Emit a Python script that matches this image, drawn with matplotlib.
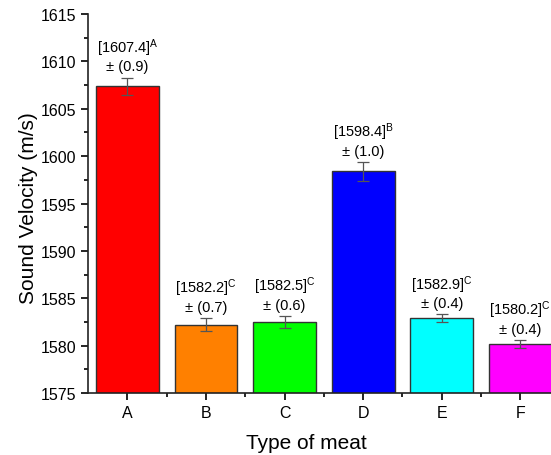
import numpy as np
import matplotlib
matplotlib.use('Agg')
from matplotlib import pyplot as plt
from matplotlib.ticker import MultipleLocator, FixedLocator

plt.rcParams['font.family'] = ['Liberation Sans', 'DejaVu Sans']
plt.rcParams['mathtext.fontset'] = 'custom'
plt.rcParams['mathtext.rm'] = 'Liberation Sans'
plt.rcParams['mathtext.it'] = 'Liberation Sans'

# data
meats = ['A', 'B', 'C', 'D', 'E', 'F']
velocity = [1607.4, 1582.2, 1582.5, 1598.4, 1582.9, 1580.2]
sd = [0.9, 0.7, 0.6, 1.0, 0.4, 0.4]
groups = ['A', 'C', 'C', 'B', 'C', 'C']
colors = ['#FF0000', '#FF8000', '#00FF00', '#0000FF', '#00FFFF', '#FF00FF']

fig = plt.figure(figsize=(5.51, 4.56), dpi=100)
ax = fig.add_axes([0.16, 0.136, 0.84, 0.831])

x = np.arange(len(meats))
ax.bar(x, velocity, width=0.8, color=colors, edgecolor='#333333', linewidth=1.0,
       zorder=2)
ax.errorbar(x, velocity, yerr=sd, fmt='none', ecolor='#555555', elinewidth=0.9,
            capsize=4, capthick=0.9, zorder=3)

for xi, v, s, g in zip(x, velocity, sd, groups):
    ax.annotate('[%.1f]$^{\\mathrm{%s}}$\n± (%.1f)' % (v, g, s),
                xy=(xi, v + s), xytext=(0, 3), textcoords='offset points',
                ha='center', va='bottom', fontsize=10.5, linespacing=1.15)

ax.set_ylim(1575, 1615)
ax.set_xlim(-0.5, 5.39)
ax.yaxis.set_major_locator(MultipleLocator(5))
ax.yaxis.set_minor_locator(MultipleLocator(2.5))
ax.set_xticks(x)
ax.set_xticklabels(meats)
ax.xaxis.set_minor_locator(FixedLocator(x[:-1] + 0.5))

for side in ['top', 'right']:
    ax.spines[side].set_visible(False)
for side in ['left', 'bottom']:
    ax.spines[side].set_linewidth(1.2)
    ax.spines[side].set_color('#222222')

ax.tick_params(axis='both', which='major', direction='out', length=5, width=1.2,
               labelsize=11.5)
ax.tick_params(axis='both', which='minor', direction='out', length=3, width=1.2)

ax.set_ylabel('Sound Velocity (m/s)', fontsize=15)
ax.set_xlabel('Type of meat', fontsize=15)
ax.yaxis.set_label_coords(-0.108, 0.49)
ax.xaxis.set_label_coords(0.471, -0.105)

fig.savefig('out.png', dpi=100)
